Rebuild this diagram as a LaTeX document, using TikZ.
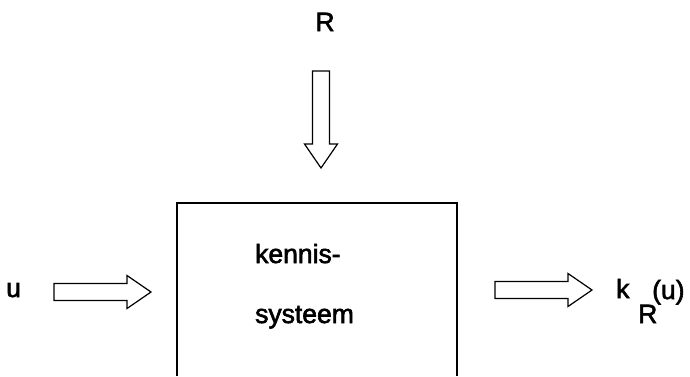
\documentclass[tikz,border=0pt]{standalone}
\usepackage{fontspec}
\setmainfont{Liberation Sans}
\newfontfamily\lblfont[FakeBold=2.2]{Liberation Sans}
\begin{document}
\begin{tikzpicture}[x=1pt,y=-1pt,
  lbl/.style={inner sep=0pt, anchor=base west, font=\lblfont\fontsize{26.5}{30}\selectfont},
  hollow/.style={draw=black, line width=1.2pt, fill=white, line join=miter},
  frame/.style={draw=black, line width=1.8pt},
  blockarrow/.pic={\path[hollow] (0,-8.5) -- (73,-8.5) -- (73,-16.5) -- (97,0)
      -- (73,16.5) -- (73,8.5) -- (0,8.5) -- cycle;}
]
\useasboundingbox (0,0) rectangle (690,376);

% the knowledge system block (open at the bottom edge)
\coordinate (ksbl) at (177,376);
\coordinate (kstl) at (177,203);
\coordinate (kstr) at (457,203);
\coordinate (ksbr) at (457,376);
\draw[frame] (ksbl) -- (kstl) -- (kstr) -- (ksbr);
\node[lbl] (kennis) at (255,263) {kennis-};
\node[lbl] (systeem) at (255,323) {systeem};

% input R from above
\node[lbl, anchor=base] (R) at (325,31) {R};
\coordinate (rin) at (321,71);
\pic[rotate=-90] at (rin) {blockarrow};

% input u from the left
\node[lbl] (u) at (6,297) {u};
\coordinate (uin) at (54,292);
\pic at (uin) {blockarrow};

% output k_R(u)
\coordinate (kout) at (495,290);
\pic at (kout) {blockarrow};
\node[lbl] (k) at (616,298) {k};
\node[lbl] (Rsub) at (638,323) {R};
\node[lbl] (arg) at (652,299) {(u)};
\end{tikzpicture}
\end{document}
